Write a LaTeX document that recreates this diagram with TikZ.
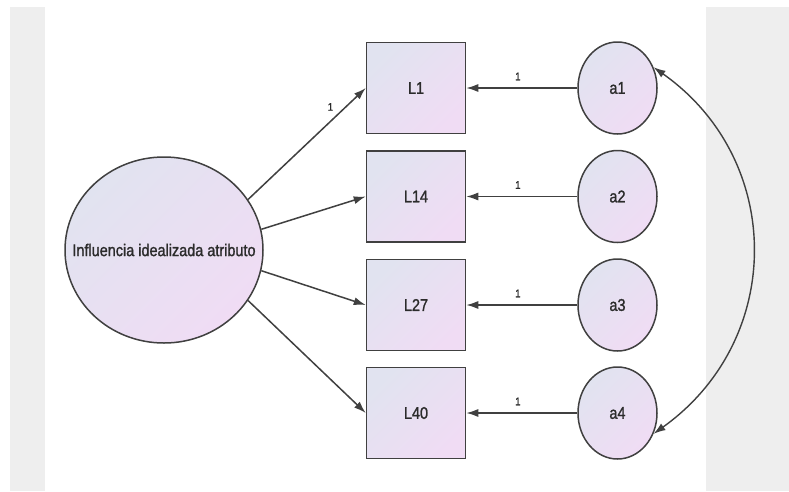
\documentclass[tikz,border=0pt]{standalone}
\usepackage{fontspec}
\setmainfont{Liberation Sans}
\newfontfamily\diagfont[FakeStretch=0.85,FakeBold=1.3]{Liberation Sans}
\usetikzlibrary{shapes.geometric,arrows.meta}
\definecolor{fillA}{HTML}{E1E3F0}
\definecolor{fillB}{HTML}{F0DCF4}
\definecolor{edgec}{HTML}{404040}
\definecolor{txt}{HTML}{2B2B2B}
\definecolor{band}{HTML}{EEEEEE}
\tikzset{
  shadefill/.style={top color=fillA, bottom color=fillB, shading angle=45},
  obsbox/.style={draw=edgec, line width=1.5pt, rectangle, minimum width=99pt, minimum height=91pt,
    inner sep=0pt, shadefill, text=txt, font=\diagfont\fontsize{17}{18}\selectfont},
  errcirc/.style={draw=edgec, line width=1.5pt, ellipse, minimum width=79pt, minimum height=92pt,
    inner sep=0pt, shadefill, text=txt, font=\diagfont\fontsize{17}{18}\selectfont},
  latcirc/.style={draw=edgec, line width=1.5pt, ellipse, minimum width=198pt, minimum height=186pt,
    inner sep=0pt, shadefill, text=txt, font=\diagfont\fontsize{17}{18}\selectfont},
  arr/.style={draw=edgec, line width=1.5pt, -{Latex[length=12pt,width=8pt]}},
  dblarr/.style={draw=edgec, line width=1.4pt, {Latex[length=12pt,width=8pt]}-{Latex[length=12pt,width=8pt]}},
  lbl/.style={text=txt, font=\diagfont\fontsize{11}{12}\selectfont, inner sep=0pt},
}
\begin{document}
\begin{tikzpicture}[x=1pt,y=-1pt]
\useasboundingbox (0,0) rectangle (789,491);
\fill[white] (0,0) rectangle (789,491);
\fill[band] (10,7) rectangle (45,491);
\fill[band] (706,7) rectangle (789,491);

\node[latcirc] (big) at (164,250) {\makebox[0pt]{Influencia idealizada atributo}};

\node[obsbox] (L1)  at (416,88)  {L1};
\node[obsbox] (L14) at (416,196.5) {L14};
\node[obsbox] (L27) at (416,305) {L27};
\node[obsbox] (L40) at (416,413) {L40};

\node[errcirc] (a1) at (617.5,88)  {a1};
\node[errcirc] (a2) at (617.5,196.5) {a2};
\node[errcirc] (a3) at (617.5,305) {a3};
\node[errcirc] (a4) at (617.5,413) {a4};

\draw[arr] (big.31) -- node[lbl, pos=0.7, above=10pt] {1} (L1.west);
\draw[arr] (big.12) -- (L14.west);
\draw[arr] (big.-12) -- (L27.west);
\draw[arr] (big.-31) -- (L40.west);

\draw[arr] (a1) -- node[lbl, pos=0.535, above=7pt] {1} (L1);
\draw[arr] (a2) -- node[lbl, pos=0.535, above=7pt] {1} (L14);
\draw[arr] (a3) -- node[lbl, pos=0.535, above=7pt] {1} (L27);
\draw[arr] (a4) -- node[lbl, pos=0.535, above=7pt] {1} (L40);

\draw[dblarr] (a1.30) .. controls (785,160) and (785,340) .. (a4.-30);
\end{tikzpicture}
\end{document}
